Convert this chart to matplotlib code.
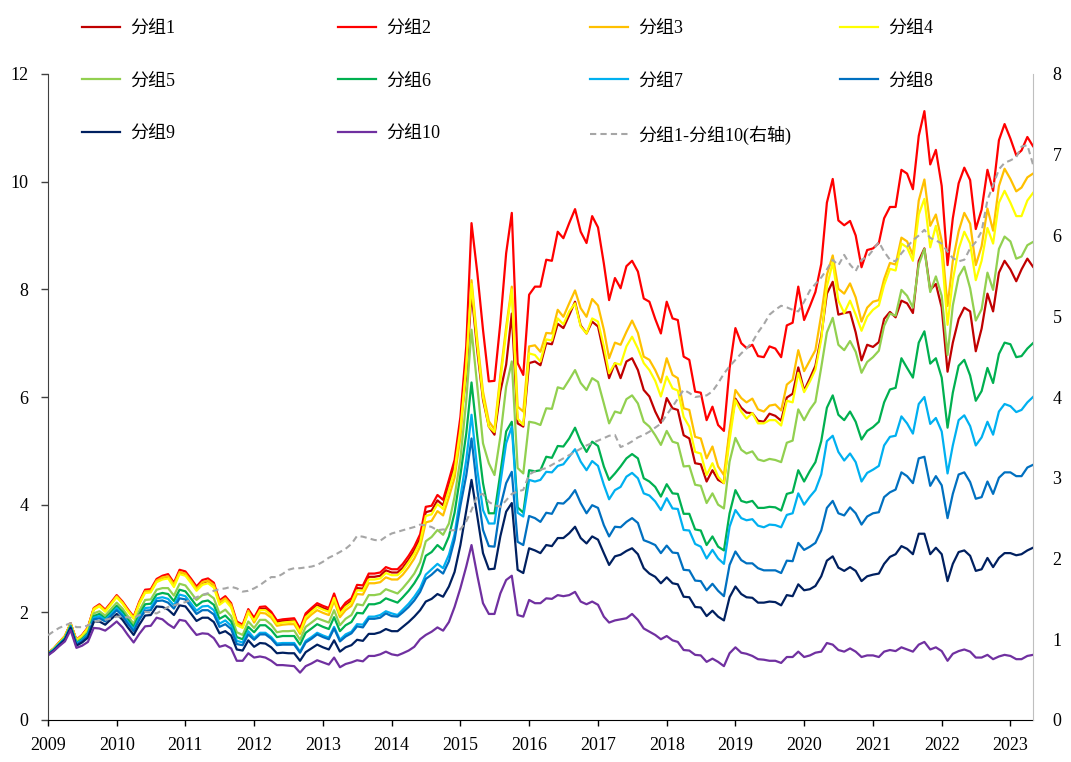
import matplotlib.pyplot as plt
import matplotlib.dates as mdates
import pandas as pd

plt.rcParams.update({
    'font.family': ['Liberation Serif', 'Noto Sans CJK SC'],
    'font.size': 13,
    'axes.unicode_minus': False,
    'figure.facecolor': 'white',
    'axes.facecolor': 'white',
})

# monthly, Jan 2009 .. May 2023
months = pd.date_range('2009-01-01', periods=173, freq='MS')

grp1 = [
    1.24, 1.33, 1.44, 1.55, 1.79, 1.48, 1.57, 1.71, 2.06, 2.13, 2.03, 2.16, 2.30, 2.18, 2.04, 1.90, 2.17, 2.39, 2.40, 2.58, 2.64, 2.66, 2.51, 2.74, 2.71, 2.57, 2.44, 2.55, 2.58, 2.50, 2.18, 2.25, 2.13, 1.79, 1.74, 2.02,
    1.87, 2.06, 2.07, 1.97, 1.82, 1.84, 1.85, 1.85, 1.67, 1.94, 2.04, 2.13, 2.08, 2.04, 2.30, 2.00, 2.13, 2.21, 2.45, 2.44, 2.66, 2.66, 2.68, 2.78, 2.74, 2.74, 2.83, 2.98, 3.15, 3.37, 3.86, 3.89, 4.08, 3.99, 4.35, 4.72, 5.50,
    6.40, 7.95, 6.85, 5.95, 5.45, 5.30, 6.10, 6.60, 7.55, 5.51, 5.45, 6.63, 6.66, 6.59, 7.00, 6.98, 7.36, 7.28, 7.52, 7.77, 7.33, 7.18, 7.40, 7.31, 6.81, 6.35, 6.63, 6.35,
    6.66, 6.72, 6.50, 6.13, 6.01, 5.73, 5.52, 5.98, 5.79, 5.76, 5.29, 5.23, 4.77, 4.75, 4.43, 4.64, 4.46, 4.40, 5.33, 5.97, 5.80, 5.71, 5.70, 5.56,
    5.54, 5.69, 5.65, 5.56, 5.99, 6.06, 6.55, 6.12, 6.35, 6.58, 7.13, 7.92, 8.14, 7.53, 7.56, 7.58, 7.20, 6.68, 6.97, 6.93, 7.02, 7.45, 7.58,
    7.48, 7.79, 7.74, 7.56, 8.53, 8.76, 7.99, 8.10, 7.66, 6.47, 7.01, 7.45, 7.66, 7.59, 6.85, 7.27, 7.92, 7.59, 8.31, 8.53, 8.37, 8.15, 8.37, 8.57, 8.42,
]
grp2 = [
    1.24, 1.33, 1.44, 1.56, 1.80, 1.49, 1.58, 1.72, 2.08, 2.15, 2.05, 2.18, 2.32, 2.20, 2.06, 1.92, 2.20, 2.42, 2.43, 2.62, 2.68, 2.71, 2.55, 2.79, 2.76, 2.62, 2.48, 2.60, 2.63, 2.55, 2.22, 2.30, 2.17, 1.83, 1.77, 2.06,
    1.90, 2.10, 2.11, 2.01, 1.85, 1.87, 1.88, 1.89, 1.70, 1.98, 2.08, 2.17, 2.12, 2.08, 2.35, 2.04, 2.18, 2.26, 2.51, 2.50, 2.72, 2.72, 2.74, 2.84, 2.80, 2.80, 2.90, 3.05, 3.22, 3.45, 3.96, 3.98, 4.18, 4.09, 4.46, 4.83, 5.63,
    6.94, 9.23, 8.30, 7.25, 6.29, 6.30, 7.37, 8.67, 9.42, 6.63, 6.41, 7.90, 8.05, 8.05, 8.55, 8.53, 9.07, 8.95, 9.23, 9.49, 9.07, 8.86, 9.36, 9.15, 8.48, 7.80, 8.21, 8.02,
    8.43, 8.53, 8.33, 7.83, 7.77, 7.45, 7.18, 7.77, 7.46, 7.43, 6.75, 6.69, 6.10, 6.08, 5.57, 5.82, 5.48, 5.37, 6.53, 7.28, 7.00, 6.91, 6.97, 6.76,
    6.74, 6.94, 6.90, 6.74, 7.33, 7.38, 8.05, 7.43, 7.69, 7.95, 8.47, 9.61, 10.05, 9.28, 9.19, 9.27, 9.00, 8.41, 8.73, 8.76, 8.86, 9.32, 9.53,
    9.53, 10.22, 10.15, 9.86, 10.85, 11.31, 10.32, 10.59, 9.92, 8.45, 9.32, 9.97, 10.26, 10.03, 9.12, 9.48, 10.22, 9.83, 10.77, 11.07, 10.80, 10.49, 10.58, 10.83, 10.66,
]
grp3 = [
    1.24, 1.33, 1.44, 1.56, 1.79, 1.48, 1.57, 1.71, 2.07, 2.13, 2.03, 2.16, 2.30, 2.18, 2.04, 1.90, 2.18, 2.39, 2.40, 2.59, 2.65, 2.67, 2.52, 2.75, 2.72, 2.58, 2.44, 2.56, 2.59, 2.51, 2.19, 2.26, 2.14, 1.80, 1.74, 2.03,
    1.81, 1.99, 1.98, 1.90, 1.75, 1.77, 1.78, 1.78, 1.60, 1.86, 1.96, 2.04, 1.99, 1.95, 2.21, 1.91, 2.04, 2.12, 2.34, 2.33, 2.54, 2.54, 2.56, 2.65, 2.61, 2.61, 2.70, 2.84, 3.00, 3.22, 3.67, 3.70, 3.88, 3.80, 4.14, 4.50, 5.25,
    6.60, 8.17, 7.05, 6.10, 5.55, 5.40, 6.40, 7.30, 8.05, 5.82, 5.73, 6.94, 6.96, 6.84, 7.19, 7.18, 7.62, 7.49, 7.74, 7.98, 7.65, 7.49, 7.82, 7.70, 7.25, 6.72, 7.01, 6.97,
    7.21, 7.42, 7.19, 6.75, 6.69, 6.50, 6.27, 6.72, 6.41, 6.35, 5.79, 5.76, 5.26, 5.23, 4.86, 5.08, 4.71, 4.55, 5.39, 6.13, 5.98, 5.90, 5.97, 5.77,
    5.73, 5.84, 5.86, 5.75, 6.23, 6.32, 6.87, 6.48, 6.68, 6.87, 7.53, 8.27, 8.63, 8.01, 7.92, 8.11, 7.85, 7.40, 7.66, 7.77, 7.80, 8.19, 8.49,
    8.46, 8.96, 8.89, 8.64, 9.65, 10.04, 9.18, 9.39, 8.90, 7.69, 8.53, 9.08, 9.42, 9.22, 8.45, 8.80, 9.50, 9.09, 9.92, 10.24, 10.05, 9.82, 9.89, 10.08, 10.15,
]
grp4 = [
    1.24, 1.33, 1.43, 1.55, 1.79, 1.48, 1.56, 1.70, 2.05, 2.11, 2.01, 2.14, 2.28, 2.16, 2.02, 1.88, 2.15, 2.36, 2.37, 2.56, 2.61, 2.63, 2.47, 2.71, 2.68, 2.54, 2.40, 2.51, 2.54, 2.46, 2.14, 2.22, 2.09, 1.76, 1.71, 1.99,
    1.85, 2.04, 2.04, 1.95, 1.79, 1.81, 1.82, 1.83, 1.64, 1.91, 2.01, 2.10, 2.05, 2.01, 2.27, 1.97, 2.10, 2.18, 2.41, 2.40, 2.61, 2.61, 2.63, 2.73, 2.69, 2.69, 2.78, 2.93, 3.09, 3.31, 3.79, 3.82, 4.01, 3.92, 4.28, 4.64, 5.41,
    6.55, 8.10, 6.95, 6.00, 5.45, 5.35, 6.30, 7.20, 8.00, 5.60, 5.48, 6.81, 6.78, 6.66, 7.07, 7.05, 7.46, 7.35, 7.59, 7.74, 7.31, 7.18, 7.46, 7.40, 6.94, 6.44, 6.63, 6.60,
    6.94, 7.12, 6.90, 6.63, 6.50, 6.30, 6.01, 6.38, 6.16, 6.12, 5.63, 5.45, 4.98, 4.95, 4.55, 4.77, 4.52, 4.40, 5.20, 5.94, 5.73, 5.60, 5.70, 5.51,
    5.51, 5.57, 5.57, 5.47, 5.93, 5.90, 6.45, 6.09, 6.29, 6.51, 7.07, 8.05, 8.50, 7.79, 7.56, 7.79, 7.53, 7.23, 7.49, 7.62, 7.70, 8.08, 8.38,
    8.35, 8.85, 8.78, 8.53, 9.39, 9.68, 8.78, 9.18, 8.67, 7.34, 8.17, 8.75, 9.07, 8.85, 8.17, 8.53, 9.14, 8.85, 9.61, 9.83, 9.61, 9.36, 9.36, 9.65, 9.79,
]
grp5 = [
    1.23, 1.32, 1.42, 1.53, 1.76, 1.45, 1.52, 1.64, 1.98, 2.02, 1.94, 2.06, 2.18, 2.07, 1.93, 1.79, 2.03, 2.23, 2.24, 2.42, 2.45, 2.45, 2.31, 2.53, 2.50, 2.36, 2.23, 2.32, 2.34, 2.26, 1.98, 2.05, 1.93, 1.63, 1.58, 1.83,
    1.71, 1.86, 1.86, 1.77, 1.63, 1.65, 1.65, 1.66, 1.49, 1.73, 1.81, 1.89, 1.85, 1.81, 2.04, 1.76, 1.88, 1.95, 2.15, 2.13, 2.32, 2.32, 2.34, 2.43, 2.39, 2.35, 2.45, 2.58, 2.72, 2.93, 3.32, 3.40, 3.53, 3.44, 3.65, 4.15, 4.85,
    5.93, 7.25, 6.19, 5.14, 4.77, 4.55, 5.26, 6.19, 6.66, 4.68, 4.58, 5.54, 5.52, 5.48, 5.79, 5.78, 6.18, 6.15, 6.32, 6.50, 6.26, 6.13, 6.35, 6.28, 5.88, 5.51, 5.73, 5.70,
    5.96, 6.03, 5.88, 5.54, 5.45, 5.29, 5.11, 5.37, 5.17, 5.14, 4.71, 4.72, 4.37, 4.35, 4.03, 4.21, 4.00, 3.93, 4.80, 5.24, 5.02, 4.95, 4.99, 4.84,
    4.81, 4.85, 4.83, 4.79, 5.15, 5.19, 5.77, 5.57, 5.77, 5.91, 6.55, 7.20, 7.47, 6.97, 6.87, 7.04, 6.84, 6.45, 6.65, 6.74, 6.86, 7.32, 7.55,
    7.51, 7.99, 7.88, 7.66, 8.46, 8.75, 7.95, 8.24, 7.88, 6.78, 7.70, 8.24, 8.42, 8.02, 7.42, 7.63, 8.31, 7.99, 8.75, 8.98, 8.89, 8.57, 8.61, 8.82, 8.88,
]
grp6 = [
    1.22, 1.31, 1.41, 1.52, 1.75, 1.43, 1.50, 1.61, 1.93, 1.97, 1.89, 2.00, 2.12, 2.01, 1.87, 1.73, 1.96, 2.15, 2.16, 2.33, 2.36, 2.34, 2.21, 2.42, 2.39, 2.25, 2.12, 2.20, 2.22, 2.14, 1.88, 1.94, 1.83, 1.54, 1.50, 1.73,
    1.63, 1.76, 1.76, 1.67, 1.54, 1.56, 1.56, 1.56, 1.40, 1.62, 1.70, 1.78, 1.73, 1.69, 1.91, 1.65, 1.76, 1.82, 1.99, 1.98, 2.15, 2.15, 2.18, 2.26, 2.22, 2.18, 2.28, 2.40, 2.54, 2.72, 3.05, 3.12, 3.25, 3.16, 3.41, 3.85, 4.55,
    5.32, 6.27, 5.26, 4.40, 3.84, 3.84, 4.58, 5.36, 5.54, 3.95, 3.85, 4.64, 4.62, 4.64, 4.89, 4.87, 5.09, 5.08, 5.23, 5.43, 5.17, 4.98, 5.17, 5.09, 4.71, 4.46, 4.58, 4.71,
    4.86, 4.94, 4.86, 4.49, 4.43, 4.33, 4.15, 4.38, 4.21, 4.20, 3.83, 3.83, 3.54, 3.52, 3.25, 3.41, 3.22, 3.15, 3.84, 4.27, 4.07, 4.04, 4.07, 3.94,
    3.94, 3.96, 3.95, 3.89, 4.20, 4.23, 4.64, 4.43, 4.63, 4.79, 5.18, 5.80, 6.03, 5.67, 5.57, 5.73, 5.54, 5.21, 5.37, 5.44, 5.54, 5.90, 6.14,
    6.17, 6.72, 6.54, 6.36, 7.01, 7.22, 6.62, 6.72, 6.36, 5.43, 6.08, 6.58, 6.69, 6.40, 5.93, 6.11, 6.54, 6.26, 6.80, 7.01, 6.98, 6.74, 6.76, 6.90, 7.00,
]
grp7 = [
    1.22, 1.31, 1.41, 1.51, 1.74, 1.42, 1.48, 1.59, 1.90, 1.93, 1.86, 1.96, 2.08, 1.96, 1.82, 1.68, 1.90, 2.08, 2.09, 2.26, 2.28, 2.25, 2.13, 2.33, 2.30, 2.16, 2.03, 2.11, 2.12, 2.04, 1.79, 1.85, 1.75, 1.47, 1.44, 1.65,
    1.52, 1.62, 1.62, 1.54, 1.42, 1.43, 1.43, 1.43, 1.27, 1.47, 1.54, 1.62, 1.57, 1.53, 1.73, 1.49, 1.59, 1.64, 1.78, 1.77, 1.92, 1.92, 1.95, 2.02, 1.98, 1.95, 2.05, 2.16, 2.29, 2.45, 2.70, 2.80, 2.90, 2.82, 3.07, 3.45, 4.15,
    4.83, 5.67, 4.64, 3.90, 3.65, 3.65, 4.40, 5.14, 5.45, 3.85, 3.78, 4.46, 4.43, 4.46, 4.61, 4.60, 4.72, 4.75, 4.89, 5.03, 4.80, 4.64, 4.81, 4.72, 4.37, 4.10, 4.27, 4.33,
    4.52, 4.59, 4.49, 4.21, 4.17, 4.06, 3.90, 4.12, 3.93, 3.92, 3.53, 3.52, 3.27, 3.22, 3.00, 3.16, 3.00, 2.90, 3.59, 3.90, 3.75, 3.71, 3.73, 3.61,
    3.58, 3.63, 3.62, 3.58, 3.81, 3.84, 4.21, 4.00, 4.15, 4.27, 4.56, 5.18, 5.28, 4.98, 4.82, 4.95, 4.79, 4.43, 4.59, 4.65, 4.72, 5.10, 5.26,
    5.28, 5.64, 5.51, 5.32, 5.87, 6.00, 5.50, 5.61, 5.36, 4.58, 5.10, 5.57, 5.66, 5.46, 5.10, 5.25, 5.54, 5.30, 5.73, 5.87, 5.83, 5.72, 5.76, 5.90, 6.00,
]
grp8 = [
    1.22, 1.30, 1.40, 1.50, 1.73, 1.40, 1.47, 1.57, 1.87, 1.89, 1.83, 1.93, 2.04, 1.93, 1.79, 1.65, 1.86, 2.03, 2.04, 2.21, 2.22, 2.18, 2.07, 2.26, 2.24, 2.10, 1.97, 2.04, 2.04, 1.96, 1.73, 1.78, 1.69, 1.41, 1.39, 1.59,
    1.49, 1.59, 1.59, 1.51, 1.39, 1.40, 1.40, 1.40, 1.25, 1.44, 1.51, 1.59, 1.54, 1.50, 1.70, 1.46, 1.55, 1.61, 1.74, 1.72, 1.88, 1.88, 1.90, 1.98, 1.93, 1.92, 2.00, 2.10, 2.22, 2.38, 2.62, 2.70, 2.80, 2.72, 2.95, 3.35, 3.98,
    4.54, 5.23, 4.27, 3.53, 3.23, 3.22, 3.96, 4.40, 4.61, 3.31, 3.25, 3.79, 3.75, 3.68, 3.85, 3.83, 4.03, 4.02, 4.12, 4.27, 4.03, 3.84, 3.99, 3.94, 3.62, 3.41, 3.59, 3.58,
    3.68, 3.75, 3.66, 3.34, 3.30, 3.25, 3.10, 3.24, 3.11, 3.10, 2.79, 2.78, 2.59, 2.58, 2.41, 2.53, 2.40, 2.30, 2.88, 3.13, 2.97, 2.91, 2.91, 2.82,
    2.78, 2.78, 2.78, 2.73, 2.96, 2.95, 3.29, 3.16, 3.22, 3.29, 3.52, 3.94, 4.07, 3.84, 3.80, 3.95, 3.84, 3.63, 3.78, 3.84, 3.86, 4.14, 4.23,
    4.28, 4.60, 4.53, 4.40, 4.86, 4.89, 4.35, 4.53, 4.36, 3.75, 4.20, 4.56, 4.60, 4.42, 4.11, 4.14, 4.43, 4.20, 4.50, 4.60, 4.60, 4.53, 4.53, 4.69, 4.74,
]
grp9 = [
    1.21, 1.29, 1.39, 1.49, 1.71, 1.38, 1.44, 1.53, 1.82, 1.83, 1.77, 1.87, 1.97, 1.86, 1.72, 1.58, 1.77, 1.94, 1.95, 2.11, 2.10, 2.05, 1.95, 2.13, 2.11, 1.97, 1.84, 1.90, 1.90, 1.82, 1.61, 1.65, 1.57, 1.31, 1.29, 1.48,
    1.36, 1.43, 1.42, 1.35, 1.24, 1.25, 1.24, 1.24, 1.10, 1.26, 1.33, 1.40, 1.35, 1.31, 1.48, 1.27, 1.35, 1.39, 1.49, 1.47, 1.60, 1.60, 1.63, 1.69, 1.65, 1.65, 1.73, 1.82, 1.92, 2.04, 2.20, 2.25, 2.34, 2.29, 2.48, 2.75, 3.25,
    3.88, 4.46, 3.78, 3.10, 2.80, 2.81, 3.41, 3.87, 4.03, 2.79, 2.73, 3.19, 3.15, 3.10, 3.25, 3.23, 3.38, 3.38, 3.47, 3.59, 3.38, 3.28, 3.41, 3.35, 3.10, 2.88, 3.04, 3.07,
    3.14, 3.19, 3.08, 2.82, 2.72, 2.66, 2.54, 2.65, 2.54, 2.52, 2.29, 2.28, 2.10, 2.09, 1.93, 2.03, 1.92, 1.85, 2.28, 2.48, 2.34, 2.28, 2.27, 2.18,
    2.18, 2.20, 2.19, 2.13, 2.32, 2.30, 2.52, 2.41, 2.43, 2.49, 2.67, 2.96, 3.04, 2.83, 2.77, 2.84, 2.77, 2.58, 2.67, 2.70, 2.72, 2.90, 3.03,
    3.08, 3.23, 3.18, 3.08, 3.46, 3.46, 3.08, 3.20, 3.08, 2.58, 2.90, 3.12, 3.15, 3.05, 2.77, 2.80, 3.01, 2.84, 3.01, 3.10, 3.10, 3.06, 3.08, 3.15, 3.20,
]
grp10 = [
    1.20, 1.28, 1.37, 1.46, 1.67, 1.34, 1.38, 1.45, 1.71, 1.70, 1.66, 1.74, 1.83, 1.72, 1.58, 1.44, 1.60, 1.74, 1.75, 1.90, 1.87, 1.78, 1.71, 1.86, 1.84, 1.70, 1.58, 1.61, 1.60, 1.52, 1.36, 1.39, 1.33, 1.10, 1.10, 1.24,
    1.16, 1.18, 1.16, 1.10, 1.02, 1.02, 1.01, 1.00, 0.88, 1.00, 1.05, 1.11, 1.07, 1.03, 1.16, 0.98, 1.04, 1.07, 1.11, 1.09, 1.19, 1.19, 1.22, 1.27, 1.22, 1.20, 1.24, 1.29, 1.36, 1.50, 1.58, 1.64, 1.72, 1.66, 1.82, 2.10, 2.45,
    2.85, 3.25, 2.68, 2.17, 1.97, 1.97, 2.35, 2.60, 2.68, 1.95, 1.92, 2.23, 2.17, 2.17, 2.26, 2.25, 2.32, 2.30, 2.32, 2.38, 2.20, 2.15, 2.20, 2.14, 1.92, 1.81, 1.85, 1.87,
    1.89, 1.97, 1.86, 1.70, 1.64, 1.58, 1.50, 1.56, 1.48, 1.45, 1.30, 1.29, 1.21, 1.20, 1.08, 1.14, 1.08, 1.00, 1.24, 1.35, 1.25, 1.23, 1.19, 1.13,
    1.12, 1.10, 1.10, 1.06, 1.17, 1.17, 1.27, 1.17, 1.20, 1.25, 1.27, 1.43, 1.40, 1.30, 1.27, 1.33, 1.27, 1.17, 1.20, 1.20, 1.17, 1.27, 1.30,
    1.28, 1.35, 1.31, 1.27, 1.40, 1.45, 1.31, 1.35, 1.28, 1.10, 1.23, 1.28, 1.31, 1.27, 1.16, 1.16, 1.21, 1.13, 1.18, 1.21, 1.19, 1.13, 1.13, 1.19, 1.21,
]
# 分组1-分组10, right axis
spread = [
    1.05, 1.10, 1.14, 1.17, 1.20, 1.15, 1.15, 1.17, 1.21, 1.23,
    1.24, 1.26, 1.28, 1.28, 1.27, 1.26, 1.30, 1.34, 1.33, 1.32,
    1.36, 1.40, 1.42, 1.44, 1.46, 1.49, 1.52, 1.55, 1.57, 1.60,
    1.62, 1.63, 1.65, 1.63, 1.59, 1.60, 1.63, 1.67, 1.72, 1.77,
    1.77, 1.81, 1.86, 1.88, 1.88, 1.89, 1.90, 1.92, 1.96, 2.01,
    2.04, 2.08, 2.12, 2.18, 2.28, 2.27, 2.25, 2.23, 2.22, 2.27,
    2.31, 2.33, 2.35, 2.37, 2.39, 2.42, 2.41, 2.39, 2.35, 2.36,
    2.35, 2.35, 2.36, 2.46, 2.60, 2.78, 2.80, 2.70, 2.66, 2.64,
    2.72, 2.80, 2.83, 2.85, 3.04, 3.08, 3.10, 3.12, 3.16, 3.20,
    3.24, 3.28, 3.32, 3.36, 3.40, 3.43, 3.46, 3.49, 3.52, 3.53,
    3.38, 3.41, 3.45, 3.50, 3.53, 3.57, 3.62, 3.67, 3.78, 3.88,
    3.98, 4.09, 4.05, 4.00, 4.01, 4.02, 4.07, 4.17, 4.29, 4.38,
    4.46, 4.54, 4.60, 4.68, 4.80, 4.90, 5.02, 5.08, 5.13, 5.11,
    5.08, 5.06, 5.18, 5.32, 5.40, 5.48, 5.58, 5.70, 5.63, 5.76,
    5.64, 5.56, 5.70, 5.73, 5.82, 5.92, 5.80, 5.70, 5.68, 5.78,
    5.86, 5.94, 6.00, 6.07, 5.97, 5.94, 5.90, 5.80, 5.72, 5.68,
    5.70, 5.84, 5.92, 6.05, 6.44, 6.62, 6.82, 6.90, 6.93, 6.97,
    7.10, 7.12, 6.88,
]

groups = [grp1, grp2, grp3, grp4, grp5, grp6, grp7, grp8, grp9, grp10]
names = ['分组1', '分组2', '分组3', '分组4', '分组5', '分组6', '分组7', '分组8', '分组9', '分组10']
colors = ['#C00000', '#FF0000', '#FFC000', '#FFFF00', '#92D050',
          '#00B050', '#00B0F0', '#0070C0', '#002060', '#7030A0']
C_DASH = '#A6A6A6'

W, H = 1071, 762
fig = plt.figure(figsize=(W / 100, H / 100), dpi=100)
ax = fig.add_axes([48 / W, 42 / H, 985 / W, 646 / H])
ax2 = ax.twinx()

handles = {}
for name, vals, c in zip(names, groups, colors):
    ln, = ax.plot(months[:len(vals)], vals, color=c, lw=1.6, label=name)
    handles[name] = ln
dash, = ax2.plot(months[:len(spread)], spread, color=C_DASH, lw=1.5,
                 ls=(0, (3, 2)), label='分组1-分组10(右轴)')
handles['分组1-分组10(右轴)'] = dash

ax.set_xlim(months[0], months[-1])
ax.set_ylim(0, 12)
ax.set_yticks(range(0, 13, 2))
ax2.set_ylim(0, 8)
ax2.set_yticks(range(0, 9))
ax.xaxis.set_major_locator(mdates.YearLocator())
ax.xaxis.set_major_formatter(mdates.DateFormatter('%Y'))

for a in (ax, ax2):
    a.spines['top'].set_visible(False)
ax.spines['right'].set_visible(False)
ax2.spines['left'].set_visible(False)
ax2.spines['bottom'].set_visible(False)
ax2.spines['right'].set_color('#BFBFBF')
ax.spines['left'].set_color('#404040')
ax.spines['bottom'].set_color('#000000')

ax.tick_params(axis='x', direction='out', length=4, width=1, pad=8, labelsize=13)
ax.tick_params(axis='y', direction='out', length=5, width=1, pad=9, labelsize=13,
               color='#404040')
ax2.tick_params(axis='y', length=0, pad=14, labelsize=13)

# legend: four columns placed like the original
cols = [['分组1', '分组5', '分组9'],
        ['分组2', '分组6', '分组10'],
        ['分组3', '分组7', '分组1-分组10(右轴)'],
        ['分组4', '分组8']]
col_x = [82, 338, 590, 840]
for labels, x in zip(cols, col_x):
    fig.legend([handles[l] for l in labels], labels, loc='upper left',
               bbox_to_anchor=(x / W, 1 - 20 / H), frameon=False,
               borderpad=0, borderaxespad=0, handlelength=2.1,
               handletextpad=0.55, labelspacing=1.97, fontsize=13)

fig.savefig('out.png', dpi=100)
